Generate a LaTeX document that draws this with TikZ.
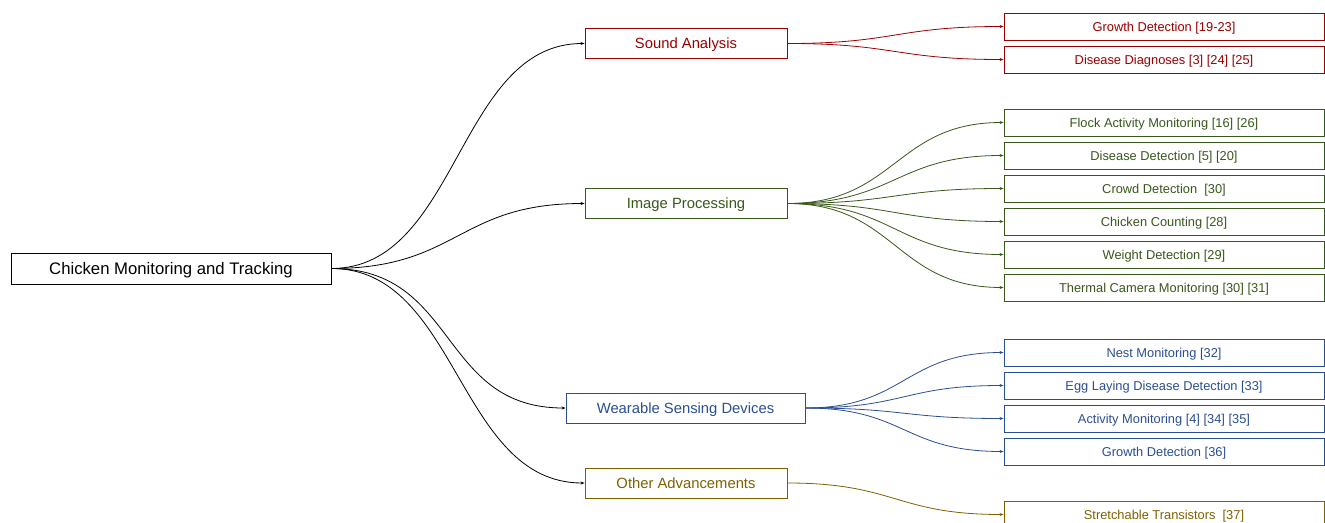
\documentclass[tikz,border=0pt]{standalone}
\usepackage{fontspec}
\setmainfont{Liberation Sans}
\usepackage{xcolor}
\usetikzlibrary{arrows.meta, positioning, calc}

\definecolor{soundred}{HTML}{990000}
\definecolor{imagegreen}{HTML}{38571A}
\definecolor{wearblue}{HTML}{2A4E92}
\definecolor{othergold}{HTML}{7F6000}

\begin{document}
\begin{tikzpicture}[x=1pt, y=-1pt,
    box/.style={draw, rectangle, inner sep=0pt, line width=0.9pt, text depth=0pt},
    topbox/.style={box, minimum width=320pt, minimum height=31pt, text height=12pt, font=\fontsize{16.7}{20}\selectfont},
    midbox/.style={box, minimum width=202pt, minimum height=30pt, text height=10.6pt, font=\fontsize{14.8}{18}\selectfont},
    leafbox/.style={box, minimum width=320pt, minimum height=27pt, text height=9.2pt, font=\fontsize{12.85}{15}\selectfont},
    link/.style={line width=0.8pt, -{Stealth[length=4pt, width=3pt]}}]
    \useasboundingbox (0,0) rectangle (1325,522);

    % root and branches
    \node[topbox] (chicken) at (171,268.5) {Chicken Monitoring and Tracking};
    \node[midbox, soundred] (sound) at (686,43.5) {Sound Analysis};
    \node[midbox, imagegreen] (image) at (686,203.5) {Image Processing};
    \node[midbox, wearblue, minimum width=239pt] (wear) at (685.5,408) {Wearable Sensing Devices};
    \node[midbox, othergold] (other) at (686,483) {Other Advancements};

    % leaves
    \node[leafbox, soundred] (s1) at (1164,26.5) {Growth Detection [19-23]};
    \node[leafbox, soundred] (s2) at (1164,59.5) {Disease Diagnoses [3] [24] [25]};

    \node[leafbox, imagegreen] (i1) at (1164,122.5) {Flock Activity Monitoring [16] [26]};
    \node[leafbox, imagegreen] (i2) at (1164,155.5) {Disease Detection [5] [20]};
    \node[leafbox, imagegreen] (i3) at (1164,188.5) {Crowd Detection \ [30]};
    \node[leafbox, imagegreen] (i4) at (1164,221.5) {Chicken Counting [28]};
    \node[leafbox, imagegreen] (i5) at (1164,254.5) {Weight Detection [29]};
    \node[leafbox, imagegreen] (i6) at (1164,287.5) {Thermal Camera Monitoring [30] [31]};

    \node[leafbox, wearblue] (w1) at (1164,352.5) {Nest Monitoring [32]};
    \node[leafbox, wearblue] (w2) at (1164,385.5) {Egg Laying Disease Detection [33]};
    \node[leafbox, wearblue] (w3) at (1164,418.5) {Activity Monitoring [4] [34] [35]};
    \node[leafbox, wearblue] (w4) at (1164,451.5) {Growth Detection [36]};

    \node[leafbox, othergold] (o1) at (1164,514.5) {Stretchable Transistors \ [37]};

    % connectors
    \foreach \b in {sound, image, wear, other}
        \draw[link] (chicken.east) .. controls +(127,0) and +(-127,0) .. (\b.west);
    \foreach \l in {s1, s2}
        \draw[link, soundred] (sound.east) .. controls +(108,0) and +(-108,0) .. (\l.west);
    \foreach \l in {i1, i2, i3, i4, i5, i6}
        \draw[link, imagegreen] (image.east) .. controls +(108,0) and +(-108,0) .. (\l.west);
    \foreach \l in {w1, w2, w3, w4}
        \draw[link, wearblue] (wear.east) .. controls +(100,0) and +(-100,0) .. (\l.west);
    \draw[link, othergold] (other.east) .. controls +(108,0) and +(-108,0) .. (o1.west);
\end{tikzpicture}
\end{document}
